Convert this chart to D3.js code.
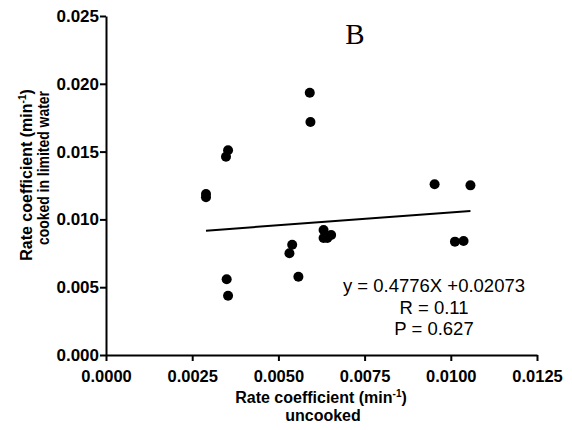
<!DOCTYPE html>
<html>
<head>
<meta charset="utf-8">
<script src="https://cdn.jsdelivr.net/npm/d3@7"></script>
<style>
  body { margin: 0; background: #fff; }
  svg { display: block; font-family: "Liberation Sans", Arial, sans-serif; }
</style>
</head>
<body>
<svg width="572" height="430"></svg>
<script>
const width = 572;
const height = 430;

// rate coefficients (min^-1)
const uncooked = [0.00591, 0.00593, 0.00354, 0.00348, 0.00290, 0.00290, 0.00540, 0.00532, 0.00558, 0.00350,
  0.00354, 0.00631, 0.00631, 0.00653, 0.00642, 0.00953, 0.01057, 0.01012, 0.01037];
const cookedLimited = [0.01934, 0.01718, 0.01510, 0.01462, 0.01187, 0.01163, 0.00813, 0.00750, 0.00577, 0.00558,
  0.00437, 0.00922, 0.00863, 0.00885, 0.00863, 0.01259, 0.01251, 0.00836, 0.00841];

// fitted line as drawn
const fitX = [0.0029, 0.01057];
const fitY = [0.00917, 0.01062];

const xTicks = [0, 0.0025, 0.005, 0.0075, 0.01, 0.0125];
const yTicks = [0, 0.005, 0.01, 0.015, 0.02, 0.025];

const statLines = ["y = 0.4776X +0.02073", "R = 0.11", "P = 0.627"];

const svg = d3.select("svg");

const x = d3.scaleLinear().domain([0, 0.0125]).range([106, 537]);
const y = d3.scaleLinear().domain([0, 0.025]).range([355, 16]);

// axes
const xAxis = svg.append("g")
  .attr("transform", `translate(0,${y(0)})`)
  .call(d3.axisBottom(x).tickValues(xTicks).tickFormat(d3.format(".4f")).tickSize(6).tickSizeOuter(0));

const yAxis = svg.append("g")
  .attr("transform", `translate(${x(0)},0)`)
  .call(d3.axisLeft(y).tickValues(yTicks).tickFormat(d3.format(".3f")).tickSize(6).tickSizeOuter(0));

[xAxis, yAxis].forEach(ax => {
  ax.select(".domain").attr("stroke", "#000").attr("stroke-width", 2);
  ax.selectAll(".tick line").attr("stroke", "#000").attr("stroke-width", 2);
  ax.selectAll(".tick text")
    .attr("fill", "#000")
    .style("font-family", "'Liberation Sans', Arial, sans-serif")
    .style("font-weight", "bold");
});
xAxis.selectAll(".tick text").attr("dy", null).attr("y", 27).style("font-size", "16.5px");
yAxis.selectAll(".tick text").attr("x", -7).style("font-size", "17px");

// x axis title
const xTitle = svg.append("text")
  .attr("text-anchor", "middle")
  .style("font-size", "16px")
  .style("font-weight", "bold");
const xt1 = xTitle.append("tspan").attr("x", 321).attr("y", 403).text("Rate coefficient (min");
xt1.append("tspan").attr("dy", -6).style("font-size", "10px").text("-1");
xTitle.append("tspan").attr("dy", 6).text(")");
svg.append("text")
  .attr("x", 323).attr("y", 421)
  .attr("text-anchor", "middle")
  .style("font-size", "16px")
  .style("font-weight", "bold")
  .text("uncooked");

// y axis title
const yTitle = svg.append("text")
  .attr("transform", "translate(32,175) rotate(-90)")
  .attr("text-anchor", "middle")
  .style("font-size", "16px")
  .style("font-weight", "bold");
yTitle.append("tspan").text("Rate coefficient (min");
yTitle.append("tspan").attr("dy", -6).style("font-size", "10px").text("-1");
yTitle.append("tspan").attr("dy", 6).text(")");
svg.append("text")
  .attr("transform", "translate(49,168) rotate(-90)")
  .attr("text-anchor", "middle")
  .attr("textLength", 154)
  .attr("lengthAdjust", "spacingAndGlyphs")
  .style("font-size", "16px")
  .style("font-weight", "bold")
  .text("cooked in limited water");

// panel letter
svg.append("text")
  .attr("x", 355).attr("y", 44)
  .attr("text-anchor", "middle")
  .style("font-family", "'Liberation Serif', 'Times New Roman', serif")
  .style("font-size", "29px")
  .text("B");

// regression line
svg.append("line")
  .attr("x1", x(fitX[0])).attr("y1", y(fitY[0]))
  .attr("x2", x(fitX[1])).attr("y2", y(fitY[1]))
  .attr("stroke", "#000")
  .attr("stroke-width", 2);

// points
svg.append("g")
  .selectAll("circle")
  .data(d3.zip(uncooked, cookedLimited))
  .join("circle")
  .attr("cx", d => x(d[0]))
  .attr("cy", d => y(d[1]))
  .attr("r", 5)
  .attr("fill", "#000");

// stats text
svg.append("g")
  .selectAll("text")
  .data(statLines)
  .join("text")
  .attr("x", 434)
  .attr("y", (d, i) => 292 + i * 21.7)
  .attr("text-anchor", "middle")
  .style("font-size", "18.5px")
  .text(d => d);
</script>
</body>
</html>
